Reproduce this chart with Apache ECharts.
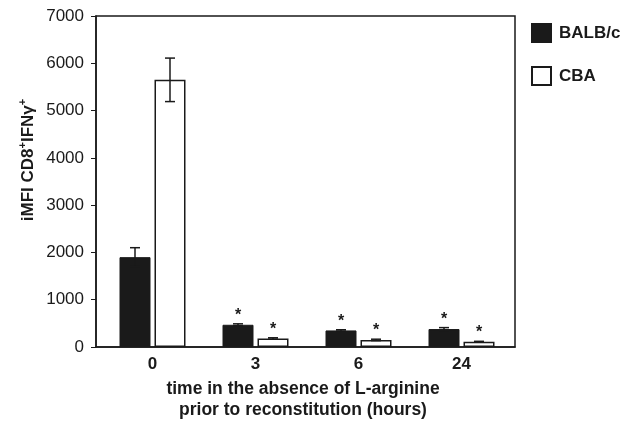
<!DOCTYPE html>
<html>
<head>
<meta charset="utf-8">
<script src="https://cdn.jsdelivr.net/npm/echarts@6/dist/echarts.min.js"></script>
<style>
  html, body { margin: 0; padding: 0; background: #fff; }
  #chart { width: 622px; height: 427px; }
</style>
</head>
<body>
<div id="chart"></div>
<script>
const categories = [ '0', '3', '6', '24' ];
const balbValues = [ 1900, 470, 350, 380 ];
const balbErrors = [ 200, 20, 15, 30 ];
const cbaValues = [ 5650, 180, 150, 110 ];
const cbaErrors = [ 460, 15, 15, 10 ];
const starred = [ false, true, true, true ]; // significatif (*)

const BAR_W = 31;
const BAR_GAP = 4;
const OFFSET = ( BAR_W + BAR_GAP ) / 2;
const INK = '#1a1a1a';

const chart = echarts.init( document.getElementById( 'chart' ) );

// Barre d'erreur décalée par rapport au centre de la catégorie
function errorSeries ( values, errors, shift ) {
  return {
    type: 'custom',
    silent: true,
    xAxisIndex: 1,
    yAxisIndex: 1,
    z: 5,
    data: values.map( ( v, i ) => [ i, v - errors[ i ], v + errors[ i ] ] ),
    renderItem: ( params, api ) => {
      const lo = api.coord( [ api.value( 0 ), api.value( 1 ) ] );
      const hi = api.coord( [ api.value( 0 ), api.value( 2 ) ] );
      const x = lo[ 0 ] + shift;
      const style = { stroke: INK, lineWidth: 1.5 };
      return {
        type: 'group',
        children: [
          { type: 'line', shape: { x1: x, y1: lo[ 1 ], x2: x, y2: hi[ 1 ] }, style },
          { type: 'line', shape: { x1: x - 5, y1: hi[ 1 ], x2: x + 5, y2: hi[ 1 ] }, style },
          { type: 'line', shape: { x1: x - 5, y1: lo[ 1 ], x2: x + 5, y2: lo[ 1 ] }, style }
        ]
      };
    }
  };
}

const starLabel = {
  show: true,
  position: 'top',
  distance: 1,
  color: INK,
  fontSize: 16,
  fontWeight: 'bold',
  formatter: ( p ) => starred[ p.dataIndex ] ? '*' : ''
};

chart.setOption( {
  animation: false,
  textStyle: { fontFamily: 'Liberation Sans' },
  grid: [
    // cadre + axe des ordonnées
    { left: 96, right: 107, top: 16, bottom: 80, show: true, borderColor: INK, borderWidth: 1.5 },
    // zone des barres
    { left: 101, right: 109, top: 16, bottom: 80 }
  ],
  legend: {
    orient: 'vertical',
    left: 526, top: 18,
    itemWidth: 19, itemHeight: 18,
    itemGap: 23,
    icon: 'rect',
    textStyle: { fontSize: 17, fontWeight: 'bold', color: INK, padding: [ 0, 0, 0, 3 ] },
    data: [ 'BALB/c', 'CBA' ]
  },
  xAxis: [
    {
      gridIndex: 0,
      type: 'category',
      data: categories,
      axisLine: { lineStyle: { color: INK, width: 1.5 } },
      axisTick: { show: false },
      axisLabel: { show: false }
    },
    {
      gridIndex: 1,
      type: 'category',
      data: categories,
      axisLine: { show: false },
      axisTick: { show: false },
      axisLabel: { fontSize: 17, fontWeight: 'bold', color: INK, margin: 9 },
      name: 'time in the absence of L-arginine\nprior to reconstitution (hours)',
      nameLocation: 'middle',
      nameGap: 32,
      nameTextStyle: { fontSize: 17.5, fontWeight: 'bold', color: INK, lineHeight: 21, verticalAlign: 'top', padding: [ 0, 0, 0, -8 ] }
    }
  ],
  yAxis: [
    {
      gridIndex: 0,
      type: 'value',
      min: 0, max: 7000, interval: 1000,
      splitLine: { show: false },
      axisLine: { show: true, lineStyle: { color: INK, width: 1.5 } },
      axisTick: { show: true, length: 5, lineStyle: { color: INK } },
      axisLabel: { fontSize: 17, color: INK, margin: 12, formatter: ( v ) => String( v ) }
    },
    {
      gridIndex: 1,
      type: 'value',
      min: 0, max: 7000, interval: 1000,
      show: false
    }
  ],
  graphic: [
    {
      type: 'text',
      x: 27, y: 160,
      rotation: Math.PI / 2,
      style: {
        text: '{n|iMFI CD8}{s|+}{n|IFNγ}{s|+}',
        align: 'center',
        verticalAlign: 'middle',
        rich: {
          n: { fontSize: 17, fontWeight: 'bold', fill: INK, lineHeight: 20, verticalAlign: 'bottom', fontFamily: 'Liberation Sans' },
          s: { fontSize: 11, fontWeight: 'bold', fill: INK, lineHeight: 20, verticalAlign: 'top', fontFamily: 'Liberation Sans' }
        }
      }
    }
  ],
  series: [
    {
      name: 'BALB/c',
      type: 'bar',
      xAxisIndex: 1,
      yAxisIndex: 1,
      data: balbValues,
      barWidth: BAR_W,
      barGap: ( BAR_GAP / BAR_W * 100 ) + '%',
      itemStyle: { color: INK, borderColor: INK, borderWidth: 1 },
      label: starLabel
    },
    {
      name: 'CBA',
      type: 'bar',
      xAxisIndex: 1,
      yAxisIndex: 1,
      data: cbaValues,
      barWidth: BAR_W,
      itemStyle: { color: '#ffffff', borderColor: INK, borderWidth: 1.5 },
      label: starLabel
    },
    errorSeries( balbValues, balbErrors, -OFFSET ),
    errorSeries( cbaValues, cbaErrors, OFFSET )
  ]
} );
</script>
</body>
</html>
